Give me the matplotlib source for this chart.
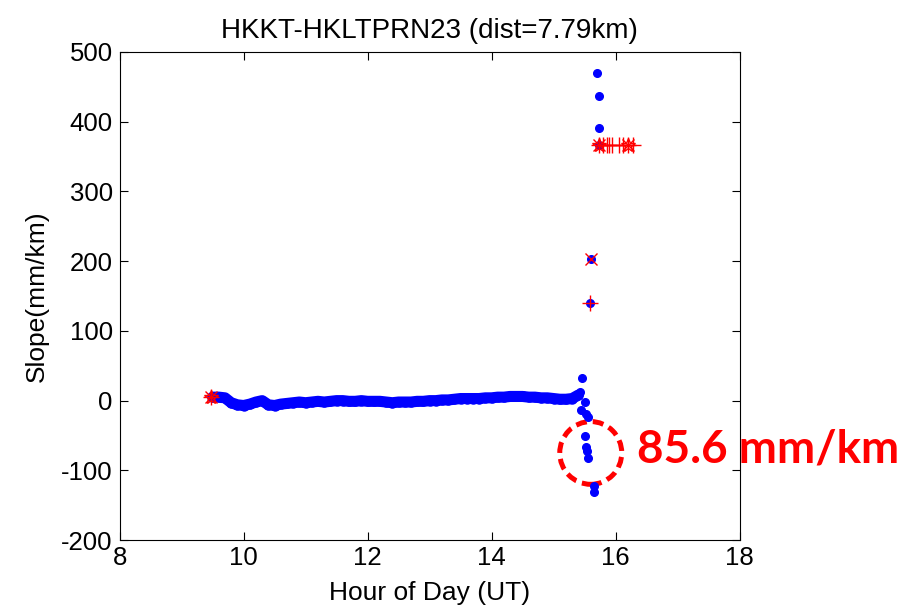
import numpy as np
import matplotlib.pyplot as plt
from matplotlib.patches import Ellipse

plt.rcParams['font.family'] = ['Liberation Sans', 'DejaVu Sans']
plt.rcParams['axes.unicode_minus'] = False

# main band of slope values (hour, mm/km)
band_hour = [9.5, 9.6, 9.7, 9.8, 9.9, 10.0, 10.1, 10.2, 10.3, 10.4, 10.5, 10.6,
             10.7, 10.8, 10.9, 11.0, 11.1, 11.2, 11.3, 11.4, 11.5, 11.6, 11.7,
             11.8, 11.9, 12.0, 12.1, 12.2, 12.3, 12.4, 12.5, 12.6, 12.7, 12.8,
             12.9, 13.0, 13.1, 13.2, 13.3, 13.4, 13.5, 13.6, 13.7, 13.8, 13.9,
             14.0, 14.1, 14.2, 14.3, 14.4, 14.5, 14.6, 14.7, 14.8, 14.9, 15.0,
             15.1, 15.2, 15.3, 15.4]
band_slope = [5, 5, 4, -3, -6, -7, -5, -2, 0, -6, -7, -5,
              -4, -3, -2, -3, -2, -1, -2, -1, 0, 0, -1,
              -1, 0, -1, -1, -1, -2, -3, -2, -2, -2, -1,
              -1, 0, 0, 1, 1, 2, 3, 3, 3, 3, 4,
              4, 5, 5, 6, 6, 6, 5, 5, 4, 4, 3,
              2, 2, 3, 8]

# scattered points after 15.4 h
tail_hour = [15.42, 15.46, 15.50, 15.45, 15.53, 15.56, 15.50, 15.53, 15.54, 15.56,
             15.65, 15.66, 15.58, 15.60, 15.70, 15.73, 15.73, 15.73]
tail_slope = [12, 32, -2, -14, -19, -24, -50, -66, -72, -82,
              -123, -131, 140, 203, 470, 437, 391, 366]

# flagged (red) points
star_hour = [9.48, 15.74, 16.20]
star_slope = [5, 367, 367]
plus_hour = [15.58, 15.80, 15.86, 15.90, 15.95, 16.05, 16.12, 16.28]
plus_slope = [140, 367, 367, 367, 367, 367, 367, 367]
x_hour = [15.60]
x_slope = [203]

fig = plt.figure(figsize=(9.13, 6.11), dpi=100)
ax = fig.add_axes([0.131, 0.116, 0.679, 0.799])

ax.plot(band_hour, band_slope, '-', color='blue', lw=8, solid_capstyle='round')
ax.plot(band_hour, band_slope, '.', color='blue', ms=13)
ax.plot(tail_hour, tail_slope, '.', color='blue', ms=11)

ax.plot(star_hour, star_slope, 'r*', ms=10, mfc='none', mew=1)
ax.plot(star_hour, star_slope, 'r+', ms=12, mew=1)
ax.plot(star_hour, star_slope, 'rx', ms=9, mew=1)
ax.plot(plus_hour, plus_slope, 'r+', ms=12, mew=1)
ax.plot([15.74, 16.28], [367, 367], 'r-', lw=1)
ax.plot(x_hour, x_slope, 'rx', ms=8, mew=1)

ax.add_patch(Ellipse((15.6, -75), 1.0, 90, fill=False, ec='red', lw=3.6,
                     ls=(0, (2.2, 1.2)), clip_on=False))
ax.text(16.35, -70, '85.6 mm/km', color='red', fontsize=33, fontweight='bold',
        family=['Lato', 'DejaVu Sans'], va='center', ha='left', clip_on=False)

ax.set_xlim(8, 18)
ax.set_ylim(-200, 500)
ax.set_xticks(np.arange(8, 19, 2))
ax.set_yticks(np.arange(-200, 501, 100))
ax.tick_params(direction='in', top=True, right=True, labelsize=18.5, length=6)
ax.tick_params(axis='y', pad=5)
ax.tick_params(axis='x', pad=4)
ax.set_title('HKKT-HKLTPRN23 (dist=7.79km)', fontsize=20, pad=10)
ax.set_xlabel('Hour of Day (UT)', fontsize=19, labelpad=8)
ax.set_ylabel('Slope(mm/km)', fontsize=19, labelpad=9)

plt.savefig('out.png', dpi=100)
